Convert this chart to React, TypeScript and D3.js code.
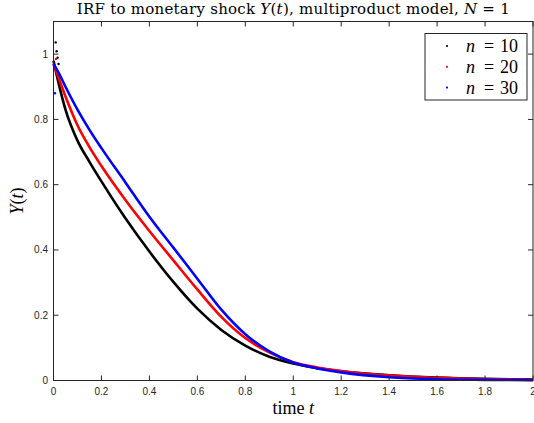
import React from "react";
import * as d3 from "d3";

const tValues = [0, 0.02, 0.05, 0.1, 0.15, 0.2, 0.3, 0.4, 0.5, 0.6, 0.7, 0.8, 0.9, 1.0, 1.1, 1.2, 1.4, 1.6, 1.8, 2.0];
const yN10 = [0.98, 0.915, 0.83, 0.735, 0.67, 0.61, 0.497, 0.395, 0.302, 0.22, 0.155, 0.107, 0.073, 0.052, 0.038, 0.028, 0.016, 0.009, 0.005, 0.003];
const yN20 = [0.97, 0.93, 0.87, 0.782, 0.715, 0.657, 0.553, 0.458, 0.368, 0.279, 0.195, 0.13, 0.086, 0.056, 0.04, 0.029, 0.015, 0.008, 0.004, 0.002];
const yN30 = [0.97, 0.945, 0.9, 0.83, 0.768, 0.712, 0.607, 0.502, 0.407, 0.312, 0.217, 0.142, 0.089, 0.055, 0.037, 0.025, 0.01, 0.004, 0.002, 0.001];

// stray markers near t = 0
const strayT = [0.009, 0.013, 0.017, 0.021, 0.01, 0.006];
const strayY = [1.036, 1.009, 0.989, 0.97, 0.985, 0.88];
const strayColor = ["#000", "#000", "#000", "#000", "#ff0000", "#0000ff"];

const seriesNames = ["10", "20", "30"];
const seriesColors = ["#000000", "#ff0000", "#0000ff"];
const xTicks = [0, 0.2, 0.4, 0.6, 0.8, 1, 1.2, 1.4, 1.6, 1.8, 2];
const yTicks = [0, 0.2, 0.4, 0.6, 0.8, 1];

const W = 534, H = 423;
const L = 53.5, R = 533, T = 21.5, B = 380.5;

export default function App() {
  const x = d3.scaleLinear().domain([0, 2]).range([L, R]);
  const y = d3.scaleLinear().domain([0, 1.1]).range([B, T]);
  const line = d3
    .line<number>()
    .x((_, i) => x(tValues[i]))
    .y((d) => y(d))
    .curve(d3.curveMonotoneX);
  const series = [yN10, yN20, yN30];
  const axisColor = "#262626";
  const tickLen = 5;
  const serif = "'Liberation Serif', 'DejaVu Serif', serif";
  const sans = "'Liberation Sans', Arial, sans-serif";

  return (
    <svg width={W} height={H} style={{ display: "block", position: "absolute", left: 0, top: 0 }}>
      <rect x={0} y={0} width={W} height={H} fill="#fff" />
      {/* data */}
      {series.map((s, k) => (
        <path key={k} d={line(s) || ""} fill="none" stroke={seriesColors[k]} strokeWidth={2.6} />
      ))}
      {strayT.map((t, i) => (
        <circle key={i} cx={x(t)} cy={y(strayY[i])} r={1.2} fill={strayColor[i]} />
      ))}
      {/* box */}
      <rect x={L} y={T} width={R - L} height={B - T} fill="none" stroke={axisColor} strokeWidth={1} />
      {/* x ticks */}
      {xTicks.map((t) => (
        <g key={"x" + t}>
          <line x1={x(t)} x2={x(t)} y1={B} y2={B - tickLen} stroke={axisColor} />
          <line x1={x(t)} x2={x(t)} y1={T} y2={T + tickLen} stroke={axisColor} />
          <text x={x(t)} y={395} textAnchor="middle" fontFamily={sans} fontSize={10} fill={axisColor}>
            {String(t)}
          </text>
        </g>
      ))}
      {yTicks.map((v) => (
        <g key={"y" + v}>
          <line x1={L} x2={L + tickLen} y1={y(v)} y2={y(v)} stroke={axisColor} />
          <line x1={R} x2={R - tickLen} y1={y(v)} y2={y(v)} stroke={axisColor} />
          <text x={48} y={y(v) + 3.5} textAnchor="end" fontFamily={sans} fontSize={10} fill={axisColor}>
            {String(v)}
          </text>
        </g>
      ))}
      {/* title */}
      <text x={(L + R) / 2} y={14} textAnchor="middle" fontFamily="'DejaVu Serif', serif" fontSize={15} fill="#000" textLength={433} lengthAdjust="spacing">
        IRF to monetary shock <tspan fontStyle="italic">Y</tspan>(<tspan fontStyle="italic">t</tspan>), multiproduct model, <tspan fontStyle="italic">N</tspan> = 1
      </text>
      {/* axis labels */}
      <text x={(L + R) / 2} y={414} textAnchor="middle" fontFamily={serif} fontSize={18} fill="#000">
        time <tspan fontStyle="italic">t</tspan>
      </text>
      <text transform={`translate(23, ${(T + B) / 2}) rotate(-90)`} textAnchor="middle" fontFamily={serif} fontSize={18} fill="#000">
        <tspan fontStyle="italic">Y</tspan>(<tspan fontStyle="italic">t</tspan>)
      </text>
      {/* legend */}
      <rect x={425} y={33.5} width={102} height={66.5} fill="#fff" stroke={axisColor} strokeWidth={1} />
      {seriesNames.map((n, i) => (
        <g key={n} fontFamily={serif} fontSize={18} fill="#000">
          <circle cx={447} cy={46 + i * 20.8} r={1.1} fill={seriesColors[i]} />
          <text x={466} y={52 + i * 20.8} fontStyle="italic">n</text>
          <text x={489} y={52 + i * 20.8} textAnchor="middle">=</text>
          <text x={518} y={52 + i * 20.8} textAnchor="end">{n}</text>
        </g>
      ))}
    </svg>
  );
}
